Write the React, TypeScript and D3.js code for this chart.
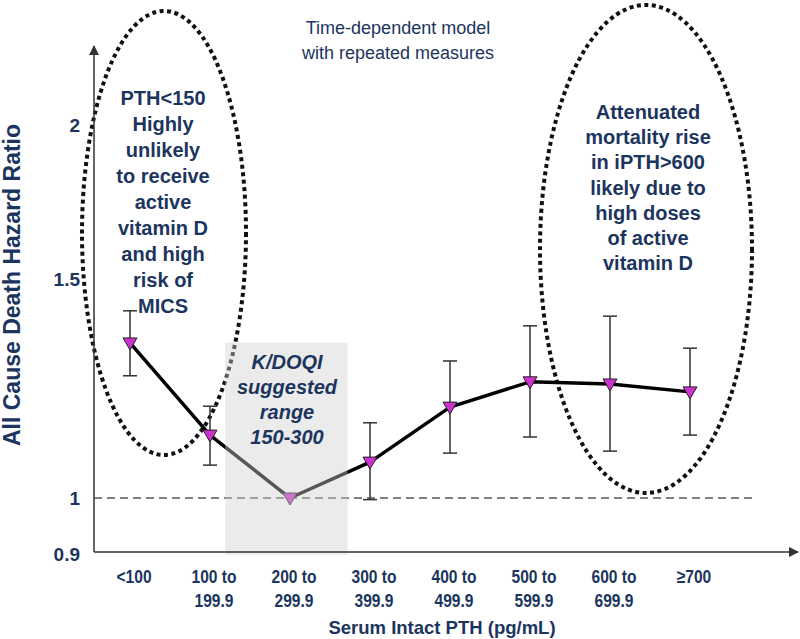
import React from "react";
import * as d3 from "d3";

const categories = ["<100", "100 to 199.9", "200 to 299.9", "300 to 399.9", "400 to 499.9", "500 to 599.9", "600 to 699.9", "≥700"];
const labelLine1 = ["<100", "100 to", "200 to", "300 to", "400 to", "500 to", "600 to", "≥700"];
const labelLine2 = ["", "199.9", "299.9", "399.9", "499.9", "599.9", "699.9", ""];
const hazardRatio = [1.334, 1.124, 1.0, 1.069, 1.184, 1.241, 1.236, 1.218];
const ciLower = [1.255, 1.063, null, 0.997, 1.087, 1.12, 1.091, 1.124];
const ciUpper = [1.416, 1.186, null, 1.15, 1.29, 1.377, 1.402, 1.321];
const yTicks = [0.9, 1, 1.5, 2];
const leftNote = ["PTH<150", "Highly", "unlikely", "to receive", "active", "vitamin D", "and high", "risk of", "MICS"];
const rightNote = ["Attenuated", "mortality rise", "in iPTH>600", "likely due to", "high doses", "of active", "vitamin D"];
const rangeNote = ["K/DOQI", "suggested", "range", "150-300"];
const topNote = ["Time-dependent model", "with repeated measures"];

const NAVY = "#1c355e";
const FONT = "'Liberation Sans', Arial, sans-serif";

export default function App() {
  const W = 800, H = 639;
  const x = d3.scalePoint<string>().domain(categories).range([130, 690]);
  const step = x.step();
  const y = d3.scaleLog().domain([0.9, 2]).range([554.7, 125]);
  const axisX = 94, axisY = 552;

  const pts = hazardRatio.map((v, i) => [x(categories[i]) as number, y(v)] as [number, number]);
  const line = d3.line()(pts) as string;

  const rectX0 = (x(categories[1]) as number) + 0.19 * step;
  const rectX1 = (x(categories[3]) as number) - 0.28 * step;

  const tri = "M-7,-5L7,-5L0,7Z";

  return (
    <svg width={W} height={H} style={{ position: "absolute", left: 0, top: 0, background: "#fff" }} fontFamily={FONT}>
      <defs>
        <marker id="arr" viewBox="0 0 10 10" refX="9" refY="5" markerWidth="7" markerHeight="7" orient="auto">
          <path d="M0,0L10,5L0,10Z" fill="#333" />
        </marker>
      </defs>
      <rect x={0} y={0} width={W} height={H} fill="#fff" />

      {/* dashed reference line */}
      <line x1={axisX} x2={752} y1={y(1)} y2={y(1)} stroke="#555" strokeWidth={1.5} strokeDasharray="8 5" />

      {/* ellipses */}
      <ellipse cx={164} cy={233} rx={82} ry={222} fill="none" stroke="#111" strokeWidth={4} strokeDasharray="4 3.5" />
      <ellipse cx={646} cy={249} rx={106} ry={244} fill="none" stroke="#111" strokeWidth={4} strokeDasharray="4 3.5" />

      {/* error bars */}
      {categories.map((c, i) => {
        const lo = ciLower[i], hi = ciUpper[i];
        if (lo == null || hi == null) return null;
        const cx = x(c) as number;
        return (
          <g key={"e" + i} stroke="#333" strokeWidth={1.5}>
            <line x1={cx} x2={cx} y1={y(lo)} y2={y(hi)} />
            <line x1={cx - 7} x2={cx + 7} y1={y(lo)} y2={y(lo)} />
            <line x1={cx - 7} x2={cx + 7} y1={y(hi)} y2={y(hi)} />
          </g>
        );
      })}

      {/* line */}
      <path d={line} fill="none" stroke="#000" strokeWidth={3.5} strokeLinejoin="round" />
      {pts.map((p, i) => (
        <path key={"m" + i} d={tri} transform={`translate(${p[0]},${p[1]})`} fill="#cc33cc" stroke="#222" strokeWidth={1} />
      ))}

      {/* shaded KDOQI range */}
      <rect x={rectX0} y={y(1.335)} width={rectX1 - rectX0} height={y(0.9) - y(1.335)} fill="rgb(207,207,207)" fillOpacity={0.42} />

      {/* axes */}
      <line x1={axisX} x2={axisX} y1={axisY} y2={46} stroke="#333" strokeWidth={1.5} markerEnd="url(#arr)" />
      <line x1={axisX} x2={798} y1={axisY} y2={axisY} stroke="#333" strokeWidth={1.5} markerEnd="url(#arr)" />

      {/* y ticks */}
      {yTicks.map((t) => (
        <text key={"t" + t} x={80} y={y(t)} textAnchor="end" dominantBaseline="central" fontSize={19} fontWeight="bold" fill={NAVY}>
          {String(t)}
        </text>
      ))}

      {/* x labels */}
      {categories.map((c, i) => {
        const cx = (x(c) as number) + 4;
        return (
          <g key={"x" + i} transform={`translate(${cx},0) scale(0.82,1)`}>
            <text x={0} y={576} textAnchor="middle" dominantBaseline="central" fontSize={19} fontWeight="bold" fill={NAVY}>{labelLine1[i]}</text>
            {labelLine2[i] && (
              <text x={0} y={600} textAnchor="middle" dominantBaseline="central" fontSize={19} fontWeight="bold" fill={NAVY}>{labelLine2[i]}</text>
            )}
          </g>
        );
      })}

      {/* axis titles */}
      <text x={442} y={627} textAnchor="middle" dominantBaseline="central" fontSize={18.5} fontWeight="bold" fill={NAVY}>
        Serum Intact PTH (pg/mL)
      </text>
      <text transform={`translate(12,285) rotate(-90)`} textAnchor="middle" dominantBaseline="central" fontSize={23} fontWeight="bold" fill={NAVY}>
        All Cause Death Hazard Ratio
      </text>

      {/* annotations */}
      {topNote.map((s, i) => (
        <text key={"tn" + i} x={398} y={28 + i * 25} textAnchor="middle" dominantBaseline="central" fontSize={18} fill={NAVY}>{s}</text>
      ))}
      {leftNote.map((s, i) => (
        <text key={"ln" + i} x={163} y={98 + i * 26} textAnchor="middle" dominantBaseline="central" fontSize={20} fontWeight="bold" fill={NAVY}>{s}</text>
      ))}
      {rightNote.map((s, i) => (
        <text key={"rn" + i} x={648} y={112 + i * 25.2} textAnchor="middle" dominantBaseline="central" fontSize={20} fontWeight="bold" fill={NAVY}>{s}</text>
      ))}
      {rangeNote.map((s, i) => (
        <text key={"kn" + i} x={287} y={362 + i * 25} textAnchor="middle" dominantBaseline="central" fontSize={20} fontWeight="bold" fontStyle="italic" fill={NAVY}>{s}</text>
      ))}
    </svg>
  );
}
